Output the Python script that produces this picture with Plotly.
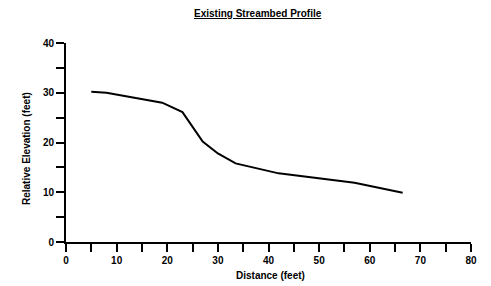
import plotly.graph_objects as go

distance = [5, 8, 19, 23, 27, 30, 33.5, 42, 57, 66.5]
elevation = [30.2, 30, 28, 26.1, 20.2, 17.8, 15.8, 13.8, 11.9, 9.9]

title_text = "Existing Streambed Profile"
x_title = "Distance (feet)"
y_title = "Relative Elevation (feet)"

FONT = "Liberation Sans, Arial, sans-serif"

fig = go.Figure()
fig.add_trace(go.Scatter(x=distance, y=elevation, mode="lines",
                         line=dict(color="black", width=2), showlegend=False))

OFF = 8  # default body margin of the page
W, H = 491 - OFF, 286 - OFF
L, R, T, B = 66 - OFF, 20, 43 - OFF, 44

axis_common = dict(showgrid=False, zeroline=False, showline=True, linecolor="black",
                   linewidth=2, ticks="outside", ticklen=8, tickwidth=1.5, tickcolor="black",
                   tickfont=dict(family=FONT, size=10, color="black", weight="bold"),
                   minor=dict(ticks="outside", ticklen=8, tickwidth=1.5, tickcolor="black", dtick=5))

fig.update_layout(
    width=W, height=H,
    margin=dict(l=L, r=R, t=T, b=B, autoexpand=False),
    paper_bgcolor="white", plot_bgcolor="white",
    xaxis=dict(range=[0, 80], dtick=10, tick0=0, **axis_common),
    yaxis=dict(range=[0, 40], dtick=10, tick0=0, **axis_common),
    font=dict(family=FONT, color="black"),
)

pw = W - L - R
ph = H - T - B

def px(xw):
    return (xw - OFF - L) / pw

def py(yw):
    return 1 - (yw - OFF - T) / ph

fig.add_annotation(text="<b><u>" + title_text + "</u></b>", xref="paper", yref="paper",
                   x=px(258), y=py(13), showarrow=False,
                   font=dict(size=10, family=FONT), xanchor="center", yanchor="middle")
fig.add_annotation(text="<b>" + x_title + "</b>", xref="paper", yref="paper",
                   x=px(270), y=py(275), showarrow=False,
                   font=dict(size=10, family=FONT), xanchor="center", yanchor="middle")
fig.add_annotation(text="<b>" + y_title + "</b>", xref="paper", yref="paper",
                   x=px(26), y=py(149), showarrow=False, textangle=-90,
                   font=dict(size=10, family=FONT), xanchor="center", yanchor="middle")

fig.write_html("out.html")
